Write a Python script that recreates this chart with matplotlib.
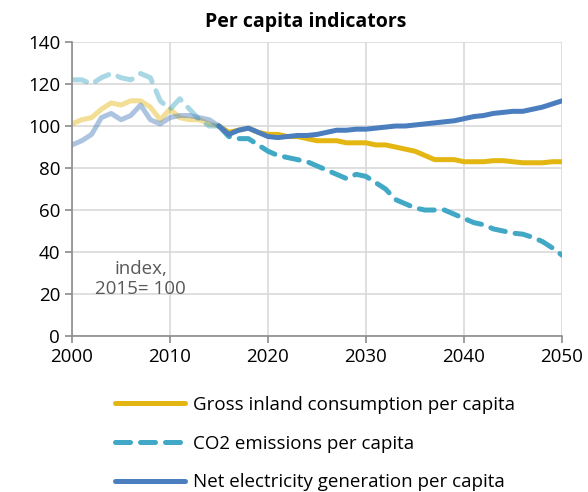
import matplotlib.pyplot as plt
import numpy as np

years = list(range(2000, 2051))

# index, 2015 = 100
gross_inland = [101, 103, 104, 108, 111, 110, 112, 112, 109, 103,
                108, 104, 103, 103, 101, 100, 97, 98, 99, 97,
                96, 96, 95, 95, 94, 93, 93, 93, 92, 92,
                92, 91, 91, 90, 89, 88, 86, 84, 84, 84,
                83, 83, 83, 83.5, 83.5, 83, 82.5, 82.5, 82.5, 83,
                83]
co2 = [122, 122, 120, 123, 125, 123, 122, 125, 123, 112,
       108, 113, 108, 103, 100, 100, 95, 94, 94, 91,
       88, 86, 85, 84, 83, 81, 79, 77, 75, 77,
       76, 73, 70, 65, 63, 61, 60, 60, 60, 58,
       56, 54, 53, 51, 50, 49, 48.5, 47, 45, 42,
       38.5]
net_elec = [91, 93, 96, 104, 106, 103, 105, 110, 103, 101,
            104, 105, 105, 104, 103, 100, 96, 98, 99, 97,
            95, 94.5, 95, 95.5, 95.5, 96, 97, 98, 98, 98.5,
            98.5, 99, 99.5, 100, 100, 100.5, 101, 101.5, 102, 102.5,
            103.5, 104.5, 105, 106, 106.5, 107, 107, 108, 109, 110.5,
            112]

labels = ["Gross inland consumption per capita",
          "CO2 emissions per capita",
          "Net electricity generation per capita"]
colors = ["#E3B612", "#41A8C5", "#4B7EBE"]
styles = ["-", (0, (3, 2)), "-"]
series = [gross_inland, co2, net_elec]

plt.rcParams['font.family'] = ['Open Sans', 'DejaVu Sans']

fig = plt.figure(figsize=(5.88, 4.92), dpi=100)
ax = fig.add_axes([0.1224, 0.317, 0.8334, 0.5976])

yrs = np.array(years)
split = yrs <= 2015
for vals, c, ls, lab in zip(series, colors, styles, labels):
    v = np.array(vals, dtype=float)
    # historic part faded, projection in full colour
    ax.plot(yrs[split], v[split], color=c, lw=3.6, ls=ls, alpha=0.45,
            solid_capstyle='round', dash_capstyle='round')
    ax.plot(yrs[yrs >= 2015], v[yrs >= 2015], color=c, lw=3.6, ls=ls,
            solid_capstyle='round', dash_capstyle='round', label=lab)

ax.set_xlim(2000, 2050)
ax.set_ylim(0, 140)
ax.set_xticks(range(2000, 2051, 10))
ax.set_yticks(range(0, 141, 20))
ax.grid(True, color='#D9D9D9', lw=1.2)
ax.set_axisbelow(True)
for s in ['top', 'right']:
    ax.spines[s].set_visible(False)
for s in ['left', 'bottom']:
    ax.spines[s].set_color('#8C8C8C')
    ax.spines[s].set_linewidth(1.2)
ax.tick_params(colors='#8C8C8C', labelcolor='black', labelsize=13.5,
               length=5, width=1.2)

ax.text(2007, 27, "index,\n2015= 100", ha='center', va='center',
        fontsize=13.5, color='#595959', linespacing=1.15)

fig.text(0.52, 0.955, "Per capita indicators", ha='center', va='center',
         fontsize=14, fontweight='bold',
         bbox=dict(facecolor='white', edgecolor='none', pad=4))

fig.legend(loc='upper left', bbox_to_anchor=(0.196, 0.195), frameon=False,
           fontsize=13.5, handlelength=3.7, labelspacing=1.1,
           handletextpad=0.45, borderpad=0, borderaxespad=0)

fig.savefig("out.png", dpi=100)
